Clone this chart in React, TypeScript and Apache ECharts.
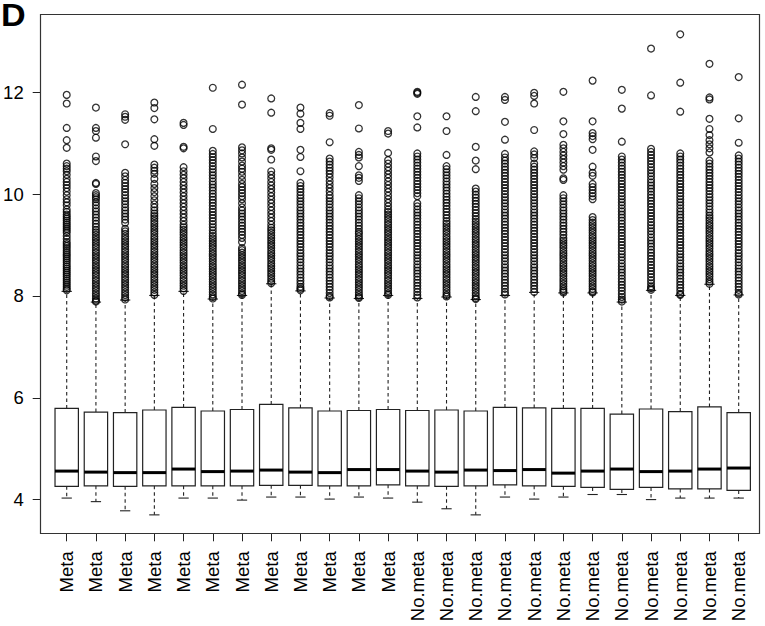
import React, { useEffect, useRef } from "react";
import * as echarts from "echarts";

const categories = [
  "Meta", "Meta", "Meta", "Meta", "Meta", "Meta", "Meta", "Meta", "Meta", "Meta", "Meta", "Meta",
  "No.meta", "No.meta", "No.meta", "No.meta", "No.meta", "No.meta", "No.meta", "No.meta", "No.meta", "No.meta", "No.meta", "No.meta",
];

const yTicks = [4, 6, 8, 10, 12];

const whiskerLow = [4.03, 3.96, 3.78, 3.70, 4.03, 4.03, 3.99, 4.05, 4.05, 4.01, 4.05, 4.03, 3.95, 3.82, 3.70, 4.05, 4.01, 4.05, 4.10, 4.10, 4.00, 4.03, 4.03, 4.03];
const q1 = [4.26, 4.27, 4.26, 4.27, 4.27, 4.27, 4.27, 4.28, 4.28, 4.27, 4.27, 4.29, 4.27, 4.26, 4.27, 4.29, 4.27, 4.26, 4.24, 4.20, 4.24, 4.21, 4.21, 4.18];
const median = [4.56, 4.54, 4.53, 4.53, 4.60, 4.55, 4.56, 4.58, 4.54, 4.53, 4.59, 4.59, 4.56, 4.54, 4.58, 4.57, 4.59, 4.52, 4.56, 4.60, 4.55, 4.56, 4.60, 4.62];
const q3 = [5.79, 5.72, 5.71, 5.76, 5.81, 5.74, 5.77, 5.87, 5.80, 5.74, 5.75, 5.77, 5.75, 5.76, 5.74, 5.81, 5.80, 5.79, 5.79, 5.68, 5.78, 5.73, 5.82, 5.71];
const whiskerHigh = [8.09, 7.88, 7.92, 8.01, 8.09, 7.94, 8.01, 8.24, 8.10, 7.96, 7.95, 8.01, 7.95, 7.98, 7.93, 8.01, 8.07, 8.06, 8.06, 7.88, 8.11, 8.01, 8.23, 8.02];

const meta1Out = [11.95, 11.78, 11.30, 11.06, 10.91, 10.60, 10.55, 10.50, 10.45, 10.38, 10.30, 10.24, 10.18, 10.12, 10.05, 9.98, 9.90, 9.84, 9.78, 9.70, 9.65, 9.60, 9.56, 9.52, 9.48, 9.44, 9.40, 9.36, 9.32, 9.28, 9.24, 9.18, 9.12, 9.06, 9.02, 8.98, 8.94, 8.90, 8.86, 8.82, 8.78, 8.74, 8.70, 8.66, 8.62, 8.58, 8.54, 8.50, 8.46, 8.42, 8.38, 8.34, 8.30, 8.26, 8.22, 8.18, 8.14, 8.11];
const meta2Out = [11.70, 11.30, 11.24, 11.11, 10.74, 10.65, 10.22, 10.20, 10.02, 9.98, 9.94, 9.90, 9.84, 9.78, 9.72, 9.66, 9.60, 9.54, 9.48, 9.42, 9.36, 9.30, 9.25, 9.20, 9.15, 9.10, 9.05, 9.00, 8.95, 8.90, 8.85, 8.80, 8.75, 8.70, 8.65, 8.60, 8.55, 8.50, 8.45, 8.40, 8.35, 8.30, 8.25, 8.20, 8.15, 8.10, 8.05, 8.00, 7.95, 7.91, 7.89];
const meta3Out = [11.57, 11.52, 11.46, 10.98, 10.42, 10.35, 10.28, 10.22, 10.16, 10.10, 10.04, 9.98, 9.92, 9.86, 9.80, 9.74, 9.68, 9.62, 9.56, 9.50, 9.44, 9.32, 9.27, 9.22, 9.17, 9.12, 9.07, 9.02, 8.97, 8.92, 8.87, 8.82, 8.77, 8.72, 8.67, 8.62, 8.57, 8.52, 8.47, 8.42, 8.37, 8.32, 8.27, 8.22, 8.17, 8.12, 8.07, 8.02, 7.97, 7.93];
const meta4Out = [11.80, 11.69, 11.47, 11.08, 10.95, 10.58, 10.52, 10.46, 10.40, 10.30, 10.20, 10.12, 10.04, 9.96, 9.88, 9.80, 9.74, 9.68, 9.62, 9.57, 9.52, 9.47, 9.42, 9.37, 9.32, 9.27, 9.22, 9.17, 9.12, 9.07, 9.02, 8.97, 8.92, 8.87, 8.82, 8.77, 8.72, 8.67, 8.62, 8.57, 8.52, 8.47, 8.42, 8.37, 8.32, 8.27, 8.22, 8.17, 8.12, 8.07, 8.02];
const meta5Out = [11.40, 11.36, 10.93, 10.90, 10.53, 10.45, 10.38, 10.31, 10.24, 10.17, 10.10, 10.03, 9.96, 9.89, 9.82, 9.75, 9.68, 9.61, 9.54, 9.47, 9.40, 9.35, 9.30, 9.25, 9.20, 9.15, 9.10, 9.05, 9.00, 8.95, 8.90, 8.85, 8.80, 8.75, 8.70, 8.65, 8.60, 8.55, 8.50, 8.45, 8.40, 8.35, 8.30, 8.25, 8.20, 8.15, 8.10];
const meta6Out = [12.09, 11.28, 10.85, 10.79, 10.73, 10.67, 10.61, 10.55, 10.49, 10.43, 10.37, 10.31, 10.25, 10.19, 10.13, 10.07, 10.01, 9.95, 9.89, 9.83, 9.77, 9.71, 9.65, 9.59, 9.53, 9.47, 9.41, 9.35, 9.29, 9.23, 9.18, 9.13, 9.08, 9.03, 8.98, 8.93, 8.88, 8.83, 8.78, 8.73, 8.68, 8.63, 8.58, 8.53, 8.48, 8.43, 8.38, 8.33, 8.28, 8.23, 8.18, 8.13, 8.08, 8.03, 7.98, 7.95];
const meta7Out = [12.15, 11.76, 10.92, 10.86, 10.80, 10.72, 10.64, 10.56, 10.50, 10.44, 10.36, 10.28, 10.20, 10.14, 10.08, 10.02, 9.96, 9.90, 9.82, 9.74, 9.68, 9.62, 9.56, 9.50, 9.44, 9.38, 9.32, 9.26, 9.20, 9.14, 9.06, 8.94, 8.90, 8.85, 8.80, 8.75, 8.70, 8.65, 8.60, 8.55, 8.50, 8.45, 8.40, 8.35, 8.30, 8.25, 8.20, 8.15, 8.10, 8.05, 8.02];
const meta8Out = [11.88, 11.60, 10.90, 10.87, 10.68, 10.45, 10.38, 10.31, 10.24, 10.17, 10.10, 10.03, 9.96, 9.89, 9.82, 9.75, 9.68, 9.61, 9.54, 9.47, 9.40, 9.34, 9.29, 9.24, 9.19, 9.14, 9.09, 9.04, 8.99, 8.94, 8.89, 8.84, 8.79, 8.74, 8.69, 8.64, 8.59, 8.54, 8.49, 8.44, 8.39, 8.34, 8.29, 8.25];
const meta9Out = [11.70, 11.58, 11.40, 11.28, 10.87, 10.73, 10.45, 10.22, 10.16, 10.10, 10.04, 9.98, 9.92, 9.86, 9.80, 9.74, 9.68, 9.62, 9.56, 9.50, 9.44, 9.38, 9.32, 9.26, 9.20, 9.14, 9.08, 9.02, 8.96, 8.90, 8.84, 8.78, 8.72, 8.66, 8.60, 8.54, 8.48, 8.42, 8.36, 8.30, 8.24, 8.18, 8.14, 8.11];
const meta10Out = [11.59, 11.54, 11.02, 10.70, 10.64, 10.58, 10.52, 10.46, 10.40, 10.33, 10.26, 10.19, 10.12, 10.05, 9.98, 9.92, 9.86, 9.80, 9.74, 9.68, 9.62, 9.56, 9.50, 9.44, 9.38, 9.32, 9.26, 9.20, 9.14, 9.08, 9.02, 8.96, 8.90, 8.84, 8.78, 8.72, 8.66, 8.60, 8.54, 8.48, 8.42, 8.36, 8.30, 8.24, 8.18, 8.12, 8.06, 8.00, 7.97];
const meta11Out = [11.75, 11.29, 10.83, 10.77, 10.72, 10.55, 10.37, 10.32, 10.26, 9.98, 9.92, 9.86, 9.80, 9.74, 9.68, 9.62, 9.56, 9.50, 9.44, 9.38, 9.32, 9.26, 9.22, 9.17, 9.12, 9.07, 9.02, 8.97, 8.92, 8.87, 8.82, 8.77, 8.72, 8.67, 8.62, 8.57, 8.52, 8.47, 8.42, 8.37, 8.32, 8.27, 8.22, 8.17, 8.12, 8.07, 8.02, 7.98, 7.96];
const meta12Out = [11.24, 11.19, 10.81, 10.67, 10.60, 10.53, 10.46, 10.39, 10.32, 10.25, 10.18, 10.11, 10.04, 9.97, 9.90, 9.83, 9.76, 9.70, 9.65, 9.60, 9.55, 9.50, 9.45, 9.40, 9.35, 9.30, 9.25, 9.20, 9.15, 9.10, 9.05, 9.00, 8.95, 8.90, 8.85, 8.80, 8.75, 8.70, 8.65, 8.60, 8.55, 8.50, 8.45, 8.40, 8.35, 8.30, 8.25, 8.20, 8.15, 8.10, 8.05, 8.02];
const noMeta1Out = [12.01, 11.99, 11.97, 11.53, 11.31, 10.80, 10.74, 10.68, 10.62, 10.56, 10.50, 10.44, 10.38, 10.32, 10.26, 10.20, 10.14, 10.08, 10.02, 9.96, 9.82, 9.76, 9.70, 9.64, 9.58, 9.52, 9.46, 9.40, 9.34, 9.28, 9.22, 9.16, 9.10, 9.04, 8.98, 8.92, 8.86, 8.80, 8.74, 8.68, 8.62, 8.56, 8.50, 8.44, 8.38, 8.32, 8.26, 8.20, 8.14, 8.08, 8.02, 7.97];
const noMeta2Out = [11.53, 11.24, 10.77, 10.55, 10.49, 10.43, 10.37, 10.31, 10.25, 10.19, 10.13, 10.07, 10.01, 9.95, 9.89, 9.83, 9.77, 9.71, 9.65, 9.59, 9.53, 9.47, 9.42, 9.37, 9.32, 9.27, 9.22, 9.17, 9.12, 9.07, 9.02, 8.97, 8.92, 8.87, 8.82, 8.77, 8.72, 8.67, 8.62, 8.57, 8.52, 8.47, 8.42, 8.37, 8.32, 8.27, 8.22, 8.17, 8.12, 8.07, 8.02, 7.99];
const noMeta3Out = [11.91, 11.63, 10.93, 10.66, 10.49, 10.11, 10.05, 9.99, 9.93, 9.87, 9.81, 9.75, 9.69, 9.63, 9.57, 9.51, 9.46, 9.41, 9.36, 9.31, 9.26, 9.21, 9.16, 9.11, 9.06, 9.01, 8.96, 8.91, 8.86, 8.81, 8.76, 8.71, 8.66, 8.61, 8.56, 8.51, 8.46, 8.41, 8.36, 8.31, 8.26, 8.21, 8.16, 8.11, 8.06, 8.01, 7.96, 7.94];
const noMeta4Out = [11.91, 11.85, 11.42, 11.07, 10.79, 10.72, 10.66, 10.60, 10.54, 10.48, 10.42, 10.36, 10.30, 10.24, 10.18, 10.12, 10.06, 10.00, 9.94, 9.88, 9.82, 9.76, 9.70, 9.64, 9.58, 9.52, 9.46, 9.40, 9.34, 9.28, 9.22, 9.16, 9.10, 9.04, 8.98, 8.92, 8.86, 8.80, 8.74, 8.68, 8.62, 8.56, 8.50, 8.44, 8.38, 8.32, 8.26, 8.20, 8.14, 8.08, 8.03];
const noMeta5Out = [11.99, 11.93, 11.78, 11.26, 10.84, 10.78, 10.71, 10.60, 10.54, 10.48, 10.42, 10.36, 10.30, 10.24, 10.18, 10.12, 10.06, 10.00, 9.94, 9.88, 9.82, 9.76, 9.70, 9.64, 9.58, 9.52, 9.46, 9.40, 9.34, 9.28, 9.22, 9.16, 9.10, 9.04, 8.98, 8.92, 8.86, 8.80, 8.74, 8.68, 8.62, 8.56, 8.50, 8.44, 8.38, 8.32, 8.26, 8.20, 8.14, 8.08];
const noMeta6Out = [12.01, 11.43, 11.18, 10.97, 10.90, 10.83, 10.76, 10.69, 10.62, 10.55, 10.48, 10.31, 10.28, 9.98, 9.92, 9.86, 9.80, 9.74, 9.68, 9.62, 9.56, 9.50, 9.44, 9.38, 9.32, 9.26, 9.20, 9.14, 9.09, 9.04, 8.99, 8.94, 8.89, 8.84, 8.79, 8.74, 8.69, 8.64, 8.59, 8.54, 8.49, 8.44, 8.39, 8.34, 8.29, 8.24, 8.19, 8.14, 8.10, 8.07];
const noMeta7Out = [12.23, 11.43, 11.20, 11.14, 11.08, 10.87, 10.54, 10.42, 10.36, 10.20, 10.14, 10.08, 10.02, 9.96, 9.90, 9.55, 9.49, 9.44, 9.39, 9.34, 9.29, 9.24, 9.19, 9.14, 9.09, 9.04, 8.99, 8.94, 8.89, 8.84, 8.79, 8.74, 8.69, 8.64, 8.59, 8.54, 8.49, 8.44, 8.39, 8.34, 8.29, 8.24, 8.19, 8.14, 8.09, 8.07];
const noMeta8Out = [12.05, 11.68, 11.03, 10.74, 10.68, 10.62, 10.56, 10.50, 10.44, 10.38, 10.32, 10.26, 10.20, 10.14, 10.08, 10.02, 9.96, 9.90, 9.84, 9.78, 9.72, 9.66, 9.60, 9.54, 9.48, 9.42, 9.36, 9.30, 9.24, 9.18, 9.12, 9.06, 9.00, 8.94, 8.88, 8.82, 8.76, 8.70, 8.64, 8.58, 8.52, 8.46, 8.40, 8.34, 8.28, 8.22, 8.16, 8.10, 8.04, 7.98, 7.93, 7.89];
const noMeta9Out = [12.86, 11.94, 10.89, 10.83, 10.77, 10.71, 10.65, 10.59, 10.53, 10.47, 10.41, 10.35, 10.29, 10.23, 10.17, 10.11, 10.05, 9.99, 9.93, 9.87, 9.81, 9.75, 9.69, 9.63, 9.57, 9.51, 9.45, 9.39, 9.33, 9.27, 9.21, 9.15, 9.09, 9.03, 8.97, 8.91, 8.85, 8.79, 8.73, 8.67, 8.61, 8.55, 8.49, 8.43, 8.37, 8.31, 8.25, 8.19, 8.15, 8.12];
const noMeta10Out = [13.14, 12.19, 11.62, 10.80, 10.74, 10.68, 10.62, 10.56, 10.50, 10.44, 10.38, 10.32, 10.26, 10.20, 10.14, 10.08, 10.02, 9.96, 9.90, 9.84, 9.78, 9.72, 9.66, 9.60, 9.54, 9.48, 9.42, 9.36, 9.30, 9.24, 9.18, 9.12, 9.06, 9.00, 8.94, 8.88, 8.82, 8.76, 8.70, 8.64, 8.58, 8.52, 8.46, 8.40, 8.34, 8.28, 8.22, 8.16, 8.10, 8.04, 8.02];
const noMeta11Out = [12.56, 11.90, 11.86, 11.48, 11.28, 11.16, 11.06, 10.98, 10.90, 10.82, 10.66, 10.60, 10.54, 10.48, 10.42, 10.36, 10.30, 10.24, 10.18, 10.12, 10.06, 10.00, 9.94, 9.88, 9.82, 9.76, 9.70, 9.64, 9.58, 9.53, 9.48, 9.43, 9.38, 9.33, 9.28, 9.23, 9.18, 9.13, 9.08, 9.03, 8.98, 8.93, 8.88, 8.83, 8.78, 8.73, 8.68, 8.63, 8.58, 8.53, 8.48, 8.43, 8.38, 8.33, 8.28, 8.24];
const noMeta12Out = [12.30, 11.49, 11.01, 10.76, 10.70, 10.64, 10.58, 10.52, 10.46, 10.40, 10.34, 10.28, 10.22, 10.16, 10.10, 10.04, 9.98, 9.92, 9.86, 9.80, 9.74, 9.68, 9.62, 9.56, 9.50, 9.44, 9.38, 9.32, 9.26, 9.20, 9.14, 9.08, 9.02, 8.96, 8.90, 8.84, 8.78, 8.72, 8.66, 8.60, 8.54, 8.48, 8.42, 8.36, 8.30, 8.24, 8.18, 8.12, 8.06, 8.03];

const outliers = [
  meta1Out, meta2Out, meta3Out, meta4Out, meta5Out, meta6Out,
  meta7Out, meta8Out, meta9Out, meta10Out, meta11Out, meta12Out,
  noMeta1Out, noMeta2Out, noMeta3Out, noMeta4Out, noMeta5Out, noMeta6Out,
  noMeta7Out, noMeta8Out, noMeta9Out, noMeta10Out, noMeta11Out, noMeta12Out,
];

const FONT = "'Liberation Sans', Arial, Helvetica, sans-serif";

export default function App() {
  const ref = useRef<HTMLDivElement>(null);

  useEffect(() => {
    if (!ref.current) return;
    const chart = echarts.init(ref.current, null, { renderer: "svg" });

    const boxData = categories.map((_, i) => [i, whiskerLow[i], q1[i], median[i], q3[i], whiskerHigh[i]]);
    const outlierData: number[][] = [];
    outliers.forEach((arr, i) => arr.forEach((v) => outlierData.push([i, v])));

    const stroke = "#222";

    chart.setOption({
      animation: false,
      backgroundColor: "#ffffff",
      grid: { left: 52.1, right: 11.7, top: 15, bottom: 92.7, containLabel: false },
      xAxis: {
        type: "category",
        data: categories,
        boundaryGap: true,
        axisLine: { show: false },
        axisTick: { show: true, alignWithLabel: true, length: 8, lineStyle: { color: stroke, width: 1 } },
        axisLabel: {
          interval: 0,
          rotate: 90,
          margin: 18,
          color: "#000",
          fontSize: 18.5,
          fontFamily: FONT,
        },
        splitLine: { show: false },
      },
      yAxis: {
        type: "value",
        min: 3.338,
        max: 13.519,
        offset: 11.4,
        axisLine: { show: false },
        axisTick: { show: true, length: 8, customValues: yTicks, lineStyle: { color: stroke, width: 1 } },
        axisLabel: {
          customValues: yTicks,
          margin: 17,
          color: "#000",
          fontSize: 18.5,
          fontFamily: FONT,
        },
        splitLine: { show: false },
      },
      graphic: [
        {
          type: "rect",
          shape: { x: 40.5, y: 14.5, width: 719, height: 519 },
          style: { fill: "none", stroke: "#333", lineWidth: 1.2 },
          z: 100,
          silent: true,
        },
        {
          type: "text",
          x: 1,
          y: 16,
          scaleX: 1.1,
          style: {
            text: "D",
            font: "bold 31px " + FONT,
            fill: "#000",
            verticalAlign: "middle",
            align: "left",
          },
        },
      ],
      series: [
        {
          type: "custom",
          data: boxData,
          encode: { x: 0, y: [1, 2, 3, 4, 5] },
          silent: true,
          z: 2,
          renderItem: (params: any, api: any) => {
            const idx = api.value(0);
            const low = api.coord([idx, api.value(1)]);
            const lq = api.coord([idx, api.value(2)]);
            const med = api.coord([idx, api.value(3)]);
            const uq = api.coord([idx, api.value(4)]);
            const high = api.coord([idx, api.value(5)]);
            const band = api.size([1, 0])[0];
            const bw = band * 0.8;
            const half = bw / 2;
            const capHalf = bw * 0.22;
            const cx = med[0];
            const dash = { stroke: stroke, lineWidth: 1.1, lineDash: [3.5, 3] };
            const solid = { stroke: stroke, lineWidth: 1.1 };
            return {
              type: "group",
              children: [
                { type: "line", shape: { x1: cx, y1: uq[1], x2: cx, y2: high[1] }, style: dash },
                { type: "line", shape: { x1: cx, y1: lq[1], x2: cx, y2: low[1] }, style: dash },
                { type: "line", shape: { x1: cx - capHalf, y1: high[1], x2: cx + capHalf, y2: high[1] }, style: solid },
                { type: "line", shape: { x1: cx - capHalf, y1: low[1], x2: cx + capHalf, y2: low[1] }, style: solid },
                {
                  type: "rect",
                  shape: { x: cx - half, y: uq[1], width: bw, height: lq[1] - uq[1] },
                  style: { fill: "#ffffff", stroke: stroke, lineWidth: 1.2 },
                },
                {
                  type: "line",
                  shape: { x1: cx - half, y1: med[1], x2: cx + half, y2: med[1] },
                  style: { stroke: "#000", lineWidth: 3 },
                },
              ],
            };
          },
        },
        {
          type: "scatter",
          data: outlierData,
          symbol: "circle",
          symbolSize: 6.8,
          silent: true,
          z: 3,
          itemStyle: { color: "rgba(0,0,0,0)", borderColor: "#000", borderWidth: 1.3 },
        },
      ],
    });

    return () => chart.dispose();
  }, []);

  return (
    <div
      ref={ref}
      style={{ position: "fixed", left: 0, top: 0, width: 765, height: 626, background: "#fff" }}
    />
  );
}
